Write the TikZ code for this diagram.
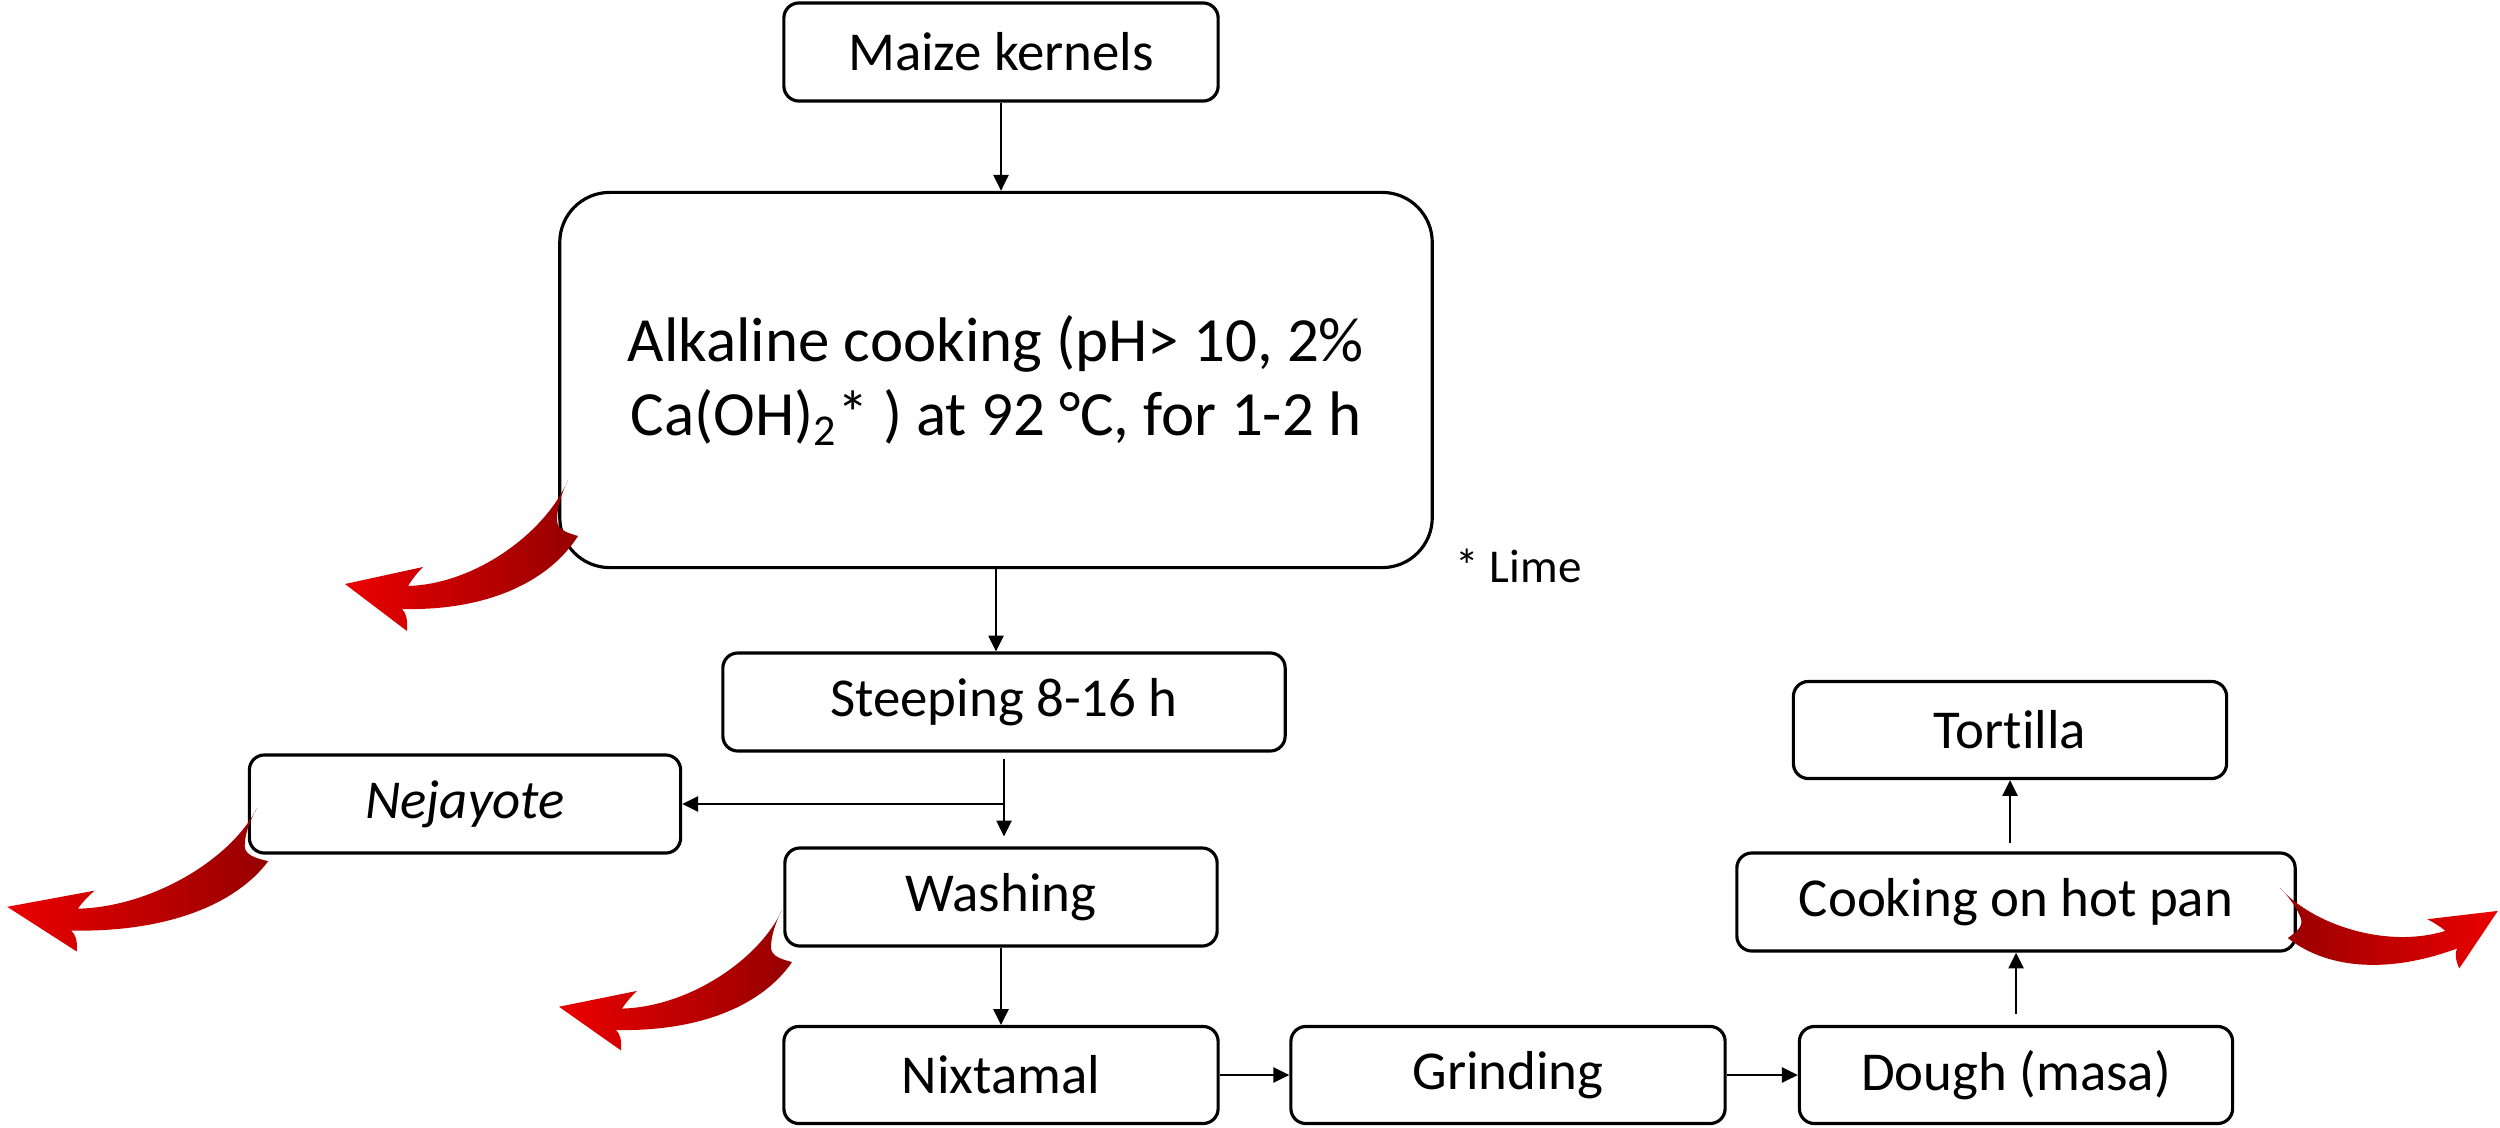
\documentclass[tikz,border=0pt]{standalone}
\usepackage{fontspec}
\setmainfont{Carlito}[Ligatures=NoCommon]
\usetikzlibrary{arrows.meta}
\definecolor{headred}{RGB}{235,0,0}
\definecolor{tailred}{RGB}{150,0,0}
\begin{document}
\begin{tikzpicture}[x=0.01cm,y=-0.01cm,
  box/.style={draw=black, line width=0.9pt, rounded corners=0.15cm, inner sep=0pt,
    minimum width=4.34cm, minimum height=0.98cm, font=\fontsize{15.6}{18}\selectfont, align=center},
  arr/.style={line width=0.6pt, -{Triangle[length=4.5pt,width=4.3pt]}},
  redshade/.style={left color=headred, right color=tailred},
  redarrow/.pic={
    \shade[redshade] (0,0) .. controls (-22,52) and (-92,104) .. (-160,106)
      .. controls (-155,98) and (-150,92) .. (-145,87)
      -- (-223,104) -- (-161,151)
      .. controls (-160,140) and (-162,133) .. (-166,129)
      .. controls (-78,131) and (-18,100) .. (10,56)
      .. controls (0,53) and (-11,50) .. (-11,40)
      .. controls (-11,25) and (-4,8) .. (0,0) -- cycle;
  }
]
\useasboundingbox (0,0) rectangle (2500,1127);

\node[box] (maize) at (1001,52) {Maize kernels};
\node[box, minimum width=8.72cm, minimum height=3.75cm, rounded corners=0.5cm,
  font=\fontsize{17.9}{21.3}\selectfont] (alk) at (996,380)
  {Alkaline cooking (pH> 10, 2\%\\Ca(OH)\textsubscript{2}* ) at 92 °C, for 1-2 h};
\node[font=\fontsize{13.4}{16}\selectfont, anchor=base west, inner sep=0pt] (lime) at (1455,582) {* Lime};
\node[box, minimum width=5.62cm] (steep) at (1004,702) {Steeping 8-16 h};
\node[box, minimum width=4.31cm] (nej) at (465,804) {\textit{Nejayote}};
\node[box, minimum width=4.32cm] (wash) at (1001,897) {Washing};
\node[box, minimum height=0.97cm] (nix) at (1001,1075) {Nixtamal};
\node[box, minimum height=0.97cm] (grind) at (1508,1075) {Grinding};
\node[box, minimum width=4.33cm, minimum height=0.97cm] (dough) at (2016,1075) {Dough (masa)};
\node[box, minimum width=5.58cm] (cook) at (2016,902) {Cooking on hot pan};
\node[box, minimum width=4.33cm, minimum height=0.97cm] (tort) at (2010,730) {Tortilla};

\draw[arr] (maize.south) -- (maize.south |- alk.north);
\draw[arr] (alk.south) -- (alk.south |- steep.north);
\draw[arr, shorten <=0.06cm, shorten >=0.1cm] (steep.south) -- (steep.south |- wash.north);
\coordinate (br) at (steep.south |- nej.east);
\draw[arr] (br) -- (nej.east);
\draw[arr] (wash.south) -- (wash.south |- nix.north);
\draw[arr] (nix.east) -- (grind.west);
\draw[arr] (grind.east) -- (dough.west);
\draw[arr, shorten <=0.11cm] (dough.north) -- (dough.north |- cook.south);
\draw[arr, shorten <=0.08cm] (tort.south |- cook.north) -- (tort.south);

\pic at (568,480) {redarrow};
\pic[xscale=1.12, yscale=0.95] at (257,808) {redarrow};
\pic[yscale=0.93] at (782,910) {redarrow};
\begin{scope}[redshade/.style={left color=tailred, right color=headred}]
\pic[rotate=19, xscale=-0.89, yscale=0.89] at (2280,888) {redarrow};
\end{scope}
\end{tikzpicture}
\end{document}
